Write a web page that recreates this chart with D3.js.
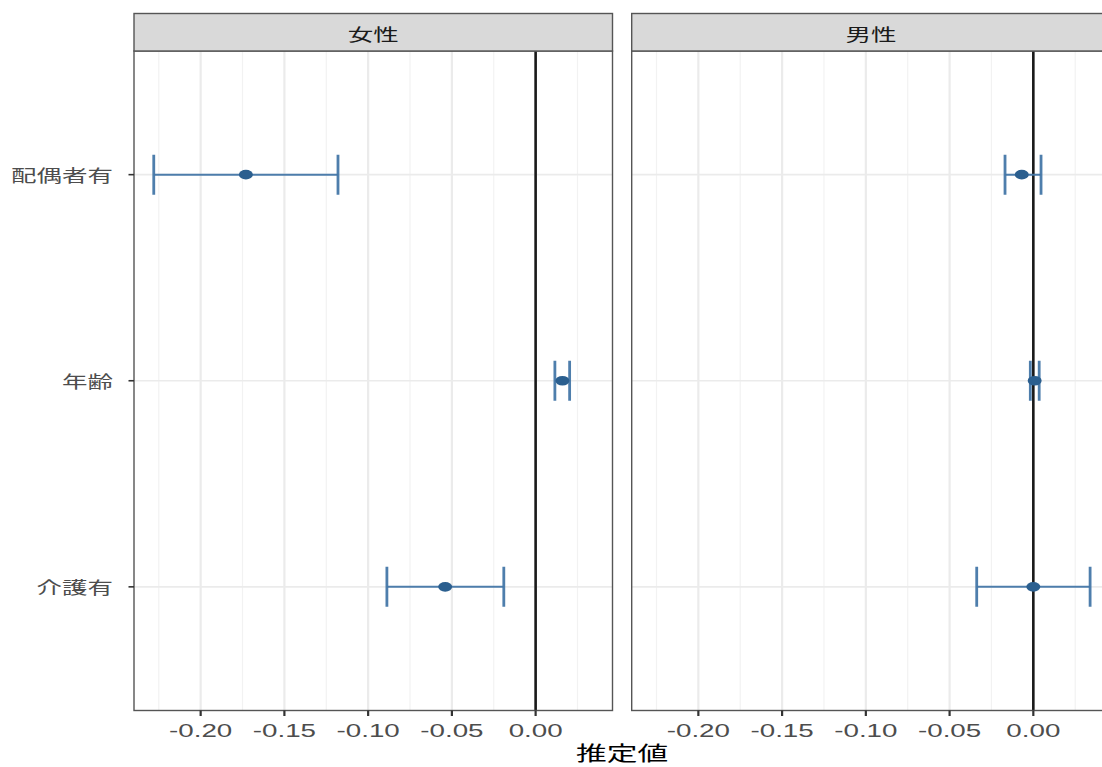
<!DOCTYPE html>
<html>
<head>
<meta charset="utf-8">
<script src="https://cdn.jsdelivr.net/npm/d3@7"></script>
<style>
  html, body { margin: 0; padding: 0; background: #ffffff; }
  svg { display: block; }
</style>
</head>
<body>
<svg id="chart" width="1102" height="767"></svg>
<script>
// Facet panels and the terms shown on the y axis (top to bottom)
const panels = ["女性", "男性"];
const terms = ["配偶者有", "年齢", "介護有"];

// Coefficient estimates with lower / upper confidence limits, per panel
const estimateF = [-0.173, 0.016, -0.054];
const lowerF    = [-0.228, 0.0115, -0.0888];
const upperF    = [-0.118, 0.0203, -0.019];

const estimateM = [-0.0069, 0.0008, 0.0000];
const lowerM    = [-0.0169, -0.0018, -0.0338];
const upperM    = [0.0046, 0.0035, 0.0339];

// Axis ticks
const xTicks = [-0.20, -0.15, -0.10, -0.05, 0.00];
const xMinorTicks = [-0.225, -0.175, -0.125, -0.075, -0.025, 0.025];
const xTickLabels = ["-0.20", "-0.15", "-0.10", "-0.05", "0.00"];
const xTitle = "推定値";

const series = [
  { est: estimateF, lo: lowerF, hi: upperF },
  { est: estimateM, lo: lowerM, hi: upperM }
];

const svg = d3.select("#chart");
const panelLeft = 134, panelW = 478.5, panelGap = 19.2;
const stripTop = 13.5, stripBottom = 51, panelBottom = 710.5;
const xDomain = [-0.2398, 0.0459];
const sx = 1.5; // horizontal text stretch
const fontStack = "'Noto Sans CJK JP', 'Liberation Sans', 'DejaVu Sans', sans-serif";

const y = d3.scalePoint().domain(terms).range([stripBottom, panelBottom]).padding(0.6);

function stretchedText(g, x, yy, str, opts) {
  g.append("text")
    .attr("transform", `translate(${x},${yy}) scale(${sx},1)`)
    .attr("text-anchor", opts.anchor || "middle")
    .attr("dominant-baseline", opts.baseline || "auto")
    .attr("font-family", opts.family || fontStack)
    .attr("font-size", opts.size || 17)
    .attr("fill", opts.fill || "#4d4d4d")
    .text(str);
}

const errColor = "#4577a8";
const ptColor = "#2b5f8f";

panels.forEach((name, pi) => {
  const x0 = panelLeft + pi * (panelW + panelGap);
  const x = d3.scaleLinear().domain(xDomain).range([x0, x0 + panelW]);
  const g = svg.append("g");
  const clipId = "clip" + pi;
  svg.append("clipPath").attr("id", clipId)
    .append("rect").attr("x", x0).attr("y", stripBottom)
    .attr("width", panelW).attr("height", panelBottom - stripBottom);

  const inner = g.append("g").attr("clip-path", `url(#${clipId})`);
  // panel background
  inner.append("rect").attr("x", x0).attr("y", stripBottom)
    .attr("width", panelW).attr("height", panelBottom - stripBottom).attr("fill", "#ffffff");

  // minor grid
  inner.selectAll(".minor").data(xMinorTicks).join("line")
    .attr("x1", d => x(d)).attr("x2", d => x(d))
    .attr("y1", stripBottom).attr("y2", panelBottom)
    .attr("stroke", "#f2f2f2").attr("stroke-width", 1.2);
  // major grid
  inner.selectAll(".major").data(xTicks).join("line")
    .attr("x1", d => x(d)).attr("x2", d => x(d))
    .attr("y1", stripBottom).attr("y2", panelBottom)
    .attr("stroke", "#ebebeb").attr("stroke-width", 2.2);
  inner.selectAll(".hgrid").data(terms).join("line")
    .attr("x1", x0).attr("x2", x0 + panelW)
    .attr("y1", d => y(d)).attr("y2", d => y(d))
    .attr("stroke", "#ebebeb").attr("stroke-width", 1.6);

  // zero reference line
  inner.append("line")
    .attr("x1", x(0)).attr("x2", x(0))
    .attr("y1", stripBottom).attr("y2", panelBottom)
    .attr("stroke", "#1a1a1a").attr("stroke-width", 2.6);

  const s = series[pi];
  const capH = 20;
  terms.forEach((t, i) => {
    const cy = y(t);
    inner.append("line")
      .attr("x1", x(s.lo[i])).attr("x2", x(s.hi[i]))
      .attr("y1", cy).attr("y2", cy)
      .attr("stroke", errColor).attr("stroke-width", 2).attr("stroke-opacity", 0.95);
    [s.lo[i], s.hi[i]].forEach(v => {
      inner.append("line")
        .attr("x1", x(v)).attr("x2", x(v))
        .attr("y1", cy - capH).attr("y2", cy + capH)
        .attr("stroke", errColor).attr("stroke-width", 2.8).attr("stroke-opacity", 0.95);
    });
    inner.append("ellipse")
      .attr("cx", x(s.est[i])).attr("cy", cy)
      .attr("rx", 7).attr("ry", 4.8)
      .attr("fill", ptColor);
  });

  // panel border
  g.append("rect").attr("x", x0).attr("y", stripBottom)
    .attr("width", panelW).attr("height", panelBottom - stripBottom)
    .attr("fill", "none").attr("stroke", "#555555").attr("stroke-width", 1.4);

  // strip
  g.append("rect").attr("x", x0).attr("y", stripTop)
    .attr("width", panelW).attr("height", stripBottom - stripTop)
    .attr("fill", "#d9d9d9").attr("stroke", "#555555").attr("stroke-width", 1.4);
  stretchedText(g, x0 + panelW / 2, (stripTop + stripBottom) / 2 + 1, name,
    { baseline: "central", fill: "#1a1a1a", size: 17 });

  // x axis ticks and labels
  xTicks.forEach((v, k) => {
    g.append("line")
      .attr("x1", x(v)).attr("x2", x(v))
      .attr("y1", panelBottom).attr("y2", panelBottom + 5.5)
      .attr("stroke", "#333333").attr("stroke-width", 2.2);
    stretchedText(g, x(v), 737, xTickLabels[k],
      { family: "'Liberation Sans', Arial, sans-serif", size: 18.5, fill: "#4d4d4d" });
  });
});

// y axis ticks and labels (left panel only)
terms.forEach(t => {
  svg.append("line")
    .attr("x1", panelLeft - 5.5).attr("x2", panelLeft)
    .attr("y1", y(t)).attr("y2", y(t))
    .attr("stroke", "#333333").attr("stroke-width", 1.6);
  stretchedText(svg, 113, y(t), t,
    { anchor: "end", baseline: "central", fill: "#4d4d4d", size: 17 });
});

// x axis title, centred across both panels
const fullRight = panelLeft + 2 * panelW + panelGap;
stretchedText(svg, (panelLeft + fullRight) / 2, 761, xTitle,
  { fill: "#000000", size: 20.5 });
</script>
</body>
</html>
